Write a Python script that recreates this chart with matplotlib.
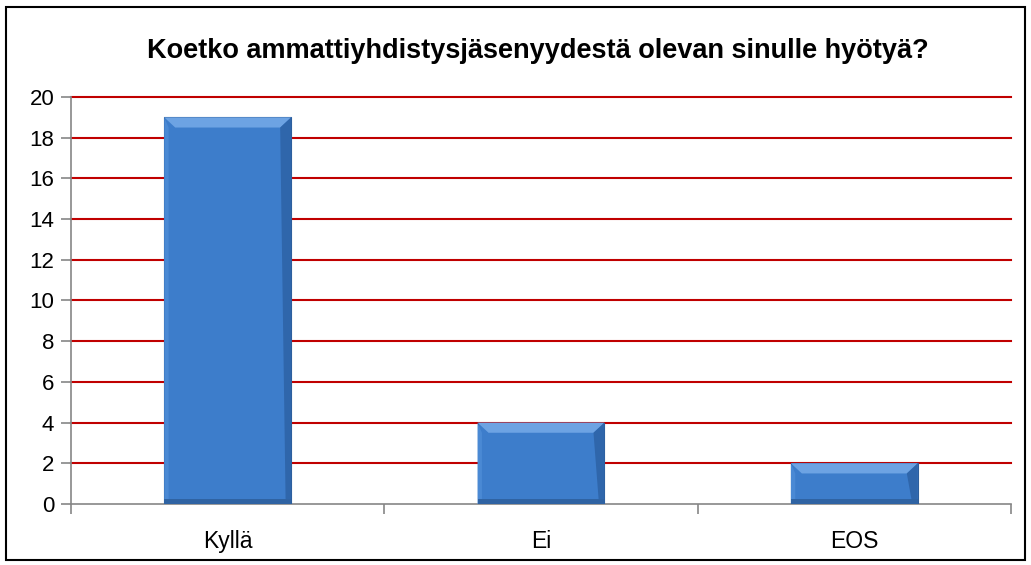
import matplotlib
matplotlib.use("Agg")
import matplotlib.pyplot as plt
from matplotlib.patches import Rectangle, Polygon
import numpy as np

categories = ["Kyllä", "Ei", "EOS"]
values = [19, 4, 2]
yticks = [0, 2, 4, 6, 8, 10, 12, 14, 16, 18, 20]
title = "Koetko ammattiyhdistysjäsenyydestä olevan sinulle hyötyä?"

plt.rcParams['font.family'] = ['Liberation Sans', 'DejaVu Sans']

fig = plt.figure(figsize=(10.31, 5.65), dpi=100)
ax = fig.add_axes([0.0689, 0.108, 0.9117, 0.7203])

x = np.arange(len(categories))
ax.set_xlim(-0.5, len(categories) - 0.5)
ax.set_ylim(0, 20)
ax.set_yticks(yticks)
ax.set_yticklabels([str(t) for t in yticks], fontsize=16)
ax.set_xticks(x)
ax.set_xticklabels(categories, fontsize=16.5)
ax.tick_params(axis='x', length=0, pad=19)
ax.set_xticks(np.arange(-0.5, len(categories)), minor=True)
ax.tick_params(axis='x', which='minor', length=7, color='#868686', width=1.2)
ax.tick_params(axis='y', length=7, color='#868686', width=1.2, pad=5)

for t in yticks[1:]:
    ax.axhline(t, color='#C00000', lw=1.5, zorder=1, clip_on=False)

bw = 0.405
bars = ax.bar(x, values, width=bw, color='#3D7DCB', edgecolor='#2D5E9C',
              linewidth=0.8, zorder=3)
dx, dy = 0.035, 0.5
for b in bars:
    x0, y0, w, h = b.get_x(), b.get_y(), b.get_width(), b.get_height()
    x1, y1 = x0 + w, y0 + h
    ax.add_patch(Polygon([(x0, y1), (x1, y1), (x1 - dx, y1 - dy), (x0 + dx, y1 - dy)],
                         closed=True, color='#6DA3E3', lw=0, zorder=4))
    ax.add_patch(Polygon([(x1, y1), (x1, y0), (x1 - dx * 0.5, y0), (x1 - dx, y1 - dy)],
                         closed=True, color='#2F66AB', lw=0, zorder=4))
    ax.add_patch(Polygon([(x0, y1), (x0 + dx * 0.4, y1 - dy), (x0 + dx * 0.4, y0), (x0, y0)],
                         closed=True, color='#4A89D4', lw=0, zorder=4))
    ax.add_patch(Rectangle((x0, y0), w, 0.25, color='#2F63A3', lw=0, zorder=4))

for s in ['top', 'right']:
    ax.spines[s].set_visible(False)
for s in ['left', 'bottom']:
    ax.spines[s].set_color('#868686')
    ax.spines[s].set_linewidth(1.2)

fig.text(0.522, 0.897, title, ha='center', va='baseline', fontsize=19.5,
         fontweight='bold')

fig.add_artist(Rectangle((0.006, 0.009), 0.988, 0.978, transform=fig.transFigure,
                         fill=False, edgecolor='black', lw=1.5))

fig.savefig("out.png", dpi=100)
